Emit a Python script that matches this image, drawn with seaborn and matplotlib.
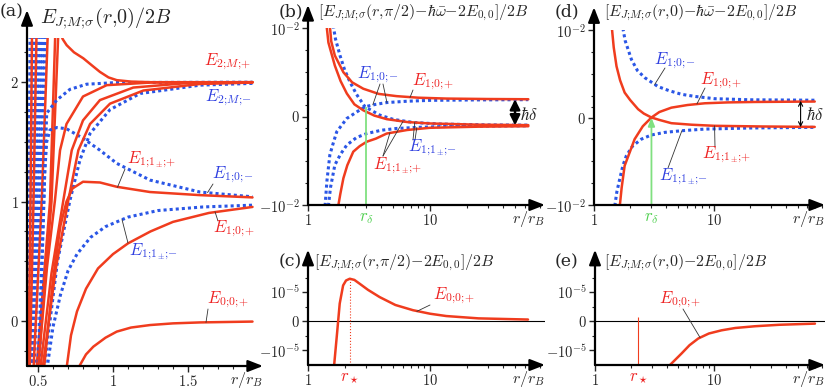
import matplotlib
matplotlib.use("Agg")
import matplotlib.pyplot as plt
import seaborn as sns

# ---------------- data ----------------
# (a) E_{J;M;sigma}(r,0)/2B versus r/r_B
a_e2p_r = [0.652, 0.665, 0.691, 0.74, 0.802, 0.86, 0.913, 0.97, 1.025, 1.12, 1.25, 1.5, 1.93]
a_e2p_E = [2.40, 2.36, 2.31, 2.25, 2.20, 2.14, 2.086, 2.04, 2.017, 2.005, 2.0, 2.0, 2.0]
a_r2a_r = [0.50, 0.56, 0.613, 0.647, 0.69, 0.80, 0.958, 1.25, 1.93]
a_r2a_E = [-0.40, 0.45, 1.01, 1.43, 1.65, 1.88, 1.975, 1.997, 2.0]
a_r2b_r = [0.515, 0.59, 0.669, 0.725, 0.80, 0.913, 1.135, 1.47, 1.93]
a_r2b_E = [-0.40, 0.40, 1.01, 1.43, 1.68, 1.85, 1.955, 1.99, 2.0]
a_r2c_r = [0.53, 0.62, 0.702, 0.769, 0.847, 0.98, 1.202, 1.58, 1.93]
a_r2c_E = [-0.40, 0.45, 1.01, 1.43, 1.65, 1.82, 1.93, 1.985, 1.997]
a_b2a_r = [0.50, 0.525, 0.545, 0.558, 0.625, 0.713, 0.824, 1.025, 1.93]
a_b2a_E = [-0.40, 0.50, 1.25, 1.74, 1.85, 1.94, 1.983, 1.997, 2.0]
a_b2b_r = [0.54, 0.63, 0.713, 0.78, 0.847, 0.98, 1.18, 1.58, 1.93]
a_b2b_E = [-0.40, 0.50, 1.01, 1.35, 1.57, 1.77, 1.905, 1.975, 1.99]
a_e10m_r = [0.51, 0.53, 0.545, 0.558, 0.58, 0.625, 0.69, 0.80, 0.913, 1.025, 1.247, 1.58, 1.93]
a_e10m_E = [-0.40, 0.60, 1.25, 1.50, 1.60, 1.62, 1.61, 1.53, 1.43, 1.32, 1.18, 1.08, 1.04]
a_e11p_r = [0.54, 0.60, 0.65, 0.69, 0.73, 0.80, 0.913, 1.025, 1.247, 1.58, 1.93]
a_e11p_E = [-0.40, 0.35, 0.80, 1.00, 1.11, 1.166, 1.16, 1.124, 1.08, 1.054, 1.035]
a_e11m_r = [0.56, 0.60, 0.65, 0.70, 0.76, 0.85, 0.95, 1.1, 1.3, 1.6, 1.93]
a_e11m_E = [-0.40, -0.05, 0.22, 0.42, 0.56, 0.70, 0.79, 0.87, 0.925, 0.955, 0.97]
a_e10p_r = [0.69, 0.72, 0.76, 0.82, 0.90, 1.0, 1.1, 1.25, 1.4, 1.64, 1.93]
a_e10p_E = [-0.40, -0.12, 0.08, 0.27, 0.44, 0.56, 0.65, 0.75, 0.83, 0.905, 0.955]
a_e00p_r = [0.766, 0.82, 0.869, 0.95, 1.025, 1.12, 1.247, 1.4, 1.58, 1.93]
a_e00p_E = [-0.40, -0.28, -0.215, -0.14, -0.089, -0.055, -0.034, -0.02, -0.012, -0.005]
# steep bundle at small r: x positions at the energies in bundle_E
bundle_E = [-0.40, 1.0, 2.40]
bundle_blue = [[0.430, 0.440, 0.447], [0.434, 0.447, 0.457], [0.438, 0.455, 0.468],
               [0.443, 0.463, 0.480], [0.448, 0.472, 0.492], [0.454, 0.482, 0.505],
               [0.460, 0.492, 0.520], [0.467, 0.503, 0.535], [0.475, 0.515, 0.550]]
bundle_red = [[0.436, 0.450, 0.460], [0.445, 0.470, 0.490], [0.470, 0.525, 0.565],
              [0.490, 0.580, 0.615], [0.500, 0.590, 0.635]]

# (b) [E(r,pi/2) - hbar*omega - 2E00]/2B
b_e10p_r = [1.51, 1.55, 1.66, 1.95, 2.3, 2.84, 3.8, 5.33, 8.0, 13.7, 30, 64]
b_e10p_E = [1.3e-2, 2.5e-3, 5.7e-4, 1.0e-4, 3.5e-5, 1.8e-5, 1.05e-5, 9.2e-6, 8.5e-6, 8.1e-6, 7.9e-6, 7.8e-6]
b_e11p_r = [1.42, 1.47, 1.66, 1.85, 2.08, 2.4, 2.84, 3.5, 4.42, 6.5, 10, 25, 64]
b_e11p_E = [1.3e-2, 2.2e-3, 2.0e-4, 4.0e-5, 1.1e-5, 5.5e-6, 2.8e-6, 4e-7, -1.2e-6, -2.5e-6, -3.15e-6, -3.7e-6, -3.9e-6]
b_e11q_r = [1.77, 1.84, 1.95, 2.1, 2.35, 2.65, 3.03, 3.6, 4.42, 6.5, 10, 25, 64]
b_e11q_E = [-1.1e-2, -3.2e-3, -6.2e-4, -1.6e-4, -3.9e-5, -2.2e-5, -1.38e-5, -1.0e-5, -7.7e-6, -6.1e-6, -5.1e-6, -4.6e-6, -4.4e-6]
b_e10m_r = [1.38, 1.43, 1.51, 1.6, 1.72, 2.08, 2.5, 2.93, 3.6, 4.42, 6.5, 10, 25, 64]
b_e10m_E = [-1.1e-2, -8e-4, -5.5e-5, -1.8e-5, -6.9e-6, -9e-7, 2.0e-6, 4.4e-6, 5.5e-6, 6.3e-6, 6.9e-6, 7.3e-6, 7.5e-6, 7.6e-6]
b_e11m_r = [1.47, 1.53, 1.66, 1.85, 2.08, 2.5, 3.03, 4.0, 5.33, 8.0, 13.7, 30, 64]
b_e11m_E = [-1.1e-2, -1.6e-3, -1.55e-4, -5e-5, -1.95e-5, -9.5e-6, -7.7e-6, -6.2e-6, -5.4e-6, -4.9e-6, -4.5e-6, -4.3e-6, -4.2e-6]
b_e11n_r = [1.61, 1.68, 1.83, 2.0, 2.21, 2.5, 2.93, 3.89, 5.0, 7.3, 12, 30, 64]
b_e11n_E = [1.3e-2, 3.2e-3, 5.7e-4, 1.25e-4, 3.6e-5, 1.0e-5, 4.4e-6, 6e-7, -1.3e-6, -2.7e-6, -3.4e-6, -3.8e-6, -3.9e-6]
b_rdelta, b_cross = 3.0, 4.4e-6
b_hd_r, b_hd_top, b_hd_bot = 49.8, 7.8e-6, -4.0e-6

# (d) [E(r,0) - hbar*omega - 2E00]/2B
d_e11p_r = [1.41, 1.46, 1.54, 1.65, 1.80, 2.0, 2.33, 2.6, 3.01, 3.5, 4.41, 6.5, 10.1, 25, 69]
d_e11p_E = [1.2e-2, 1.6e-3, 2.2e-4, 5e-5, 1.38e-5, 8e-6, 3.8e-6, 1.8e-6, 0.0, -1.1e-6, -2.6e-6, -3.3e-6, -3.8e-6, -4.1e-6, -4.3e-6]
d_e10p_r = [1.64, 1.70, 1.80, 1.95, 2.18, 2.55, 3.01, 3.5, 4.41, 6.0, 8.37, 13, 21.8, 69]
d_e10p_E = [-1.1e-2, -1.6e-3, -1.6e-4, -5e-5, -9.9e-6, -4e-6, 0.0, 2.5e-6, 4.5e-6, 5.7e-6, 6.5e-6, 6.9e-6, 7.1e-6, 7.3e-6]
d_e10m_r = [1.74, 1.82, 2.05, 2.3, 2.65, 3.41, 4.2, 5.35, 7.0, 10.1, 20, 69]
d_e10m_E = [1.2e-2, 3.2e-3, 4.5e-4, 1.4e-4, 6.6e-5, 2.6e-5, 1.7e-5, 1.15e-5, 9.6e-6, 8.6e-6, 8.1e-6, 7.9e-6]
d_e11m_r = [1.49, 1.55, 1.64, 1.74, 1.86, 2.1, 2.48, 3.0, 3.88, 5.5, 8.37, 20, 69]
d_e11m_E = [-1.1e-2, -2.5e-3, -6.3e-4, -1.6e-4, -5.6e-5, -2e-5, -9.9e-6, -8e-6, -6.8e-6, -6e-6, -5.3e-6, -4.8e-6, -4.5e-6]
d_rdelta = 3.01
d_hd_r, d_hd_top, d_hd_bot = 52.6, 7.6e-6, -4.4e-6

# (c) [E(r,pi/2) - 2E00]/2B and (e) [E(r,0) - 2E00]/2B
c_r = [1.63, 1.68, 1.73, 1.82, 1.94, 2.05, 2.20, 2.4, 2.65, 3.1, 3.87, 5.2, 7.26, 10, 13.6, 25, 63.6]
c_E = [-1.6e-5, -1.0e-5, -4.2e-6, 6.1e-6, 1.23e-5, 1.4e-5, 1.46e-5, 1.42e-5, 1.29e-5, 1.08e-5,
       8.3e-6, 5.6e-6, 3.8e-6, 2.6e-6, 1.8e-6, 1.0e-6, 6e-7]
c_rstar, c_peak = 2.20, 1.46e-5
e_r = [4.1, 4.25, 5.33, 6.2, 7.34, 9.0, 11.5, 15, 21.9, 35, 69.8]
e_E = [-1.6e-5, -1.5e-5, -1.1e-5, -8.2e-6, -5.9e-6, -4.2e-6, -3.1e-6, -2.3e-6, -1.7e-6, -1.2e-6, -8e-7]
e_rstar, e_top = 2.31, 1.5e-6

# ---------------- style ----------------
sns.set_style("ticks")
plt.rcParams["font.family"] = ["DejaVu Serif"]
plt.rcParams["mathtext.fontset"] = "cm"

RED = "#f03c1e"
BLUE = "#2a56e6"
GREEN = "#80e080"
REDTXT = "#ee2424"
BLUETXT = "#3040e0"
W, H = 831, 390

fig = plt.figure(figsize=(W / 100, H / 100), dpi=100)


def rect(l, r, t, b):
    return [l / W, 1 - b / H, (r - l) / W, (b - t) / H]


def fpos(x, y):
    return (x / W, 1 - y / H)


def curve(ax, r, E, color, dotted=False):
    sns.lineplot(x=r, y=E, ax=ax, color=color, sort=False, estimator=None,
                 lw=2.2 if dotted else 1.8,
                 linestyle=(0, (1, 1)) if dotted else "-")


def arrow_axes(ax, ytop):
    for s in ax.spines.values():
        s.set_visible(False)
    ap = dict(arrowstyle="-|>,head_length=0.9,head_width=0.35", color="k", lw=1.6,
              shrinkA=0, shrinkB=0)
    ax.annotate("", xy=(0, ytop), xytext=(0, 0), xycoords="axes fraction",
                arrowprops=ap, annotation_clip=False)
    ax.annotate("", xy=(1.0, 0), xytext=(0, 0), xycoords="axes fraction",
                arrowprops=ap, annotation_clip=False)
    ax.tick_params(which="major", direction="out", length=4, width=1.0, labelsize=10.5, pad=2)
    ax.tick_params(which="minor", direction="out", length=2.5, width=0.8)
    ax.set_xlabel("")
    ax.set_ylabel("")
    ax.annotate(r"$r/r_B$", xy=(1.0, 0), xycoords="axes fraction", xytext=(0, -3),
                textcoords="offset points", ha="right", va="top", fontsize=11.5)


def label(x, y, s, color, size=12):
    fig.text(*fpos(x, y), s, color=color, fontsize=size, ha="center", va="center")


def pointer(ax, xy, px):
    ax.annotate("", xy=xy, xycoords="data", xytext=fpos(*px), textcoords="figure fraction",
                arrowprops=dict(arrowstyle="-", lw=0.6, color="#333333", shrinkA=0, shrinkB=0))


def log_ticks(ax, rmax):
    ax.set_xscale("log")
    ax.set_xlim(1, rmax)
    ax.set_xticks([1, 10], [r"$1$", r"$10$"])
    ax.set_xticks([m * d for d in (1, 10) for m in range(2, 10) if m * d < rmax], minor=True)
    ax.tick_params(axis="x", which="minor", labelbottom=False)


# mathtext puts a space after ';' -- pull it back with a negative thin space
S = r";\!"
E2p = r"$E_{2" + S + "M" + S + "{+}}$"
E2m = r"$E_{2" + S + "M" + S + "{-}}$"
E11p = r"$E_{1" + S + r"1_{\pm}" + S + "{+}}$"
E11m = r"$E_{1" + S + r"1_{\pm}" + S + "{-}}$"
E10p = r"$E_{1" + S + "0" + S + "{+}}$"
E10m = r"$E_{1" + S + "0" + S + "{-}}$"
E00p = r"$E_{0" + S + "0" + S + "{+}}$"
EJM = r"E_{J" + S + "M" + S + r"\sigma}"

# ---------------- (a) ----------------
ax_a = fig.add_axes(rect(27, 263, 38, 366))
for xs in bundle_blue:
    curve(ax_a, xs, bundle_E, BLUE, dotted=True)
for xs in bundle_red:
    curve(ax_a, xs, bundle_E, RED)
curve(ax_a, a_b2a_r, a_b2a_E, BLUE, True)
curve(ax_a, a_b2b_r, a_b2b_E, BLUE, True)
curve(ax_a, a_e10m_r, a_e10m_E, BLUE, True)
curve(ax_a, a_e11m_r, a_e11m_E, BLUE, True)
curve(ax_a, a_e2p_r, a_e2p_E, RED)
curve(ax_a, a_r2a_r, a_r2a_E, RED)
curve(ax_a, a_r2b_r, a_r2b_E, RED)
curve(ax_a, a_r2c_r, a_r2c_E, RED)
curve(ax_a, a_e11p_r, a_e11p_E, RED)
curve(ax_a, a_e10p_r, a_e10p_E, RED)
curve(ax_a, a_e00p_r, a_e00p_E, RED)
ax_a.set_xlim(0.4267, 2.0)
ax_a.set_ylim(-0.377, 2.37)
ax_a.set_xticks([0.5, 1, 1.5], [r"$0.5$", r"$1$", r"$1.5$"])
ax_a.set_xticks([0.6, 0.7, 0.8, 0.9, 1.1, 1.2, 1.3, 1.4, 1.6, 1.7, 1.8, 1.9], minor=True)
ax_a.set_yticks([0, 1, 2], [r"$0$", r"$1$", r"$2$"])
ax_a.set_yticks([-0.25, 0.25, 0.5, 0.75, 1.25, 1.5, 1.75, 2.25], minor=True)
arrow_axes(ax_a, 1.085)

label(227, 62, E2p, REDTXT)
label(228, 98, E2m, BLUETXT)
label(152, 160, E11p, REDTXT)
pointer(ax_a, (1.03, 1.12), (125, 169))
label(233, 175, E10m, BLUETXT)
pointer(ax_a, (1.63, 1.075), (213, 184))
label(234, 229, E10p, REDTXT)
pointer(ax_a, (1.68, 0.915), (218, 221))
label(153, 252, E11m, BLUETXT)
pointer(ax_a, (1.06, 0.85), (128, 243))
label(228, 300, E00p, REDTXT)
pointer(ax_a, (1.62, -0.012), (208, 309))

# ---------------- (b) ----------------
ax_b = fig.add_axes(rect(308, 545, 28, 205))
ax_b.set_yscale("symlog", linthresh=1e-5, linscale=0.9)
curve(ax_b, b_e10m_r, b_e10m_E, BLUE, True)
curve(ax_b, b_e11m_r, b_e11m_E, BLUE, True)
curve(ax_b, b_e11n_r, b_e11n_E, BLUE, True)
curve(ax_b, b_e10p_r, b_e10p_E, RED)
curve(ax_b, b_e11p_r, b_e11p_E, RED)
curve(ax_b, b_e11q_r, b_e11q_E, RED)
ax_b.vlines(b_rdelta, -1e-2, b_cross, color=GREEN, lw=1.3)
ax_b.annotate("", xy=(b_hd_r, b_hd_top), xytext=(b_hd_r, b_hd_bot),
              arrowprops=dict(arrowstyle="<|-|>,head_length=0.6,head_width=0.3", color="k",
                              lw=1.8, shrinkA=0, shrinkB=0))
fig.text(*fpos(529, 115), r"$\hbar\delta$", fontsize=12, ha="center", va="center")

# ---------------- (d) ----------------
ax_d = fig.add_axes(rect(594, 825, 30, 205))
ax_d.set_yscale("symlog", linthresh=1e-5, linscale=0.9)
curve(ax_d, d_e10m_r, d_e10m_E, BLUE, True)
curve(ax_d, d_e11m_r, d_e11m_E, BLUE, True)
curve(ax_d, d_e11p_r, d_e11p_E, RED)
curve(ax_d, d_e10p_r, d_e10p_E, RED)
ax_d.annotate("", xy=(d_rdelta, 0), xytext=(d_rdelta, -1e-2),
              arrowprops=dict(arrowstyle="-|>,head_length=0.5,head_width=0.2", color=GREEN,
                              lw=1.3, shrinkA=0, shrinkB=0))
ax_d.annotate("", xy=(d_hd_r, d_hd_top), xytext=(d_hd_r, d_hd_bot),
              arrowprops=dict(arrowstyle="<->,head_length=0.3,head_width=0.15", color="k",
                              lw=0.8, shrinkA=0, shrinkB=0))
fig.text(*fpos(815, 116), r"$\hbar\delta$", fontsize=12, ha="center", va="center")

for ax, rmax, rd in ((ax_b, 87.7, b_rdelta), (ax_d, 84.0, d_rdelta)):
    ax.set_ylim(-1e-2, 1e-2)
    log_ticks(ax, rmax)
    ax.set_yticks([-1e-2, 0, 1e-2], [r"$-10^{-2}$", r"$0$", r"$10^{-2}$"])
    ax.set_yticks([-1e-3, -1e-4, -1e-5, -5e-6, 5e-6, 1e-5, 1e-4, 1e-3], minor=True)
    ax.tick_params(axis="y", which="minor", labelleft=False)
    arrow_axes(ax, 1.13)
    ax.annotate(r"$r_\delta$", xy=(rd, 0), xycoords=("data", "axes fraction"),
                xytext=(0, -3), textcoords="offset points", ha="center", va="top",
                color="#50d050", fontsize=12)

label(378, 75, E10m, BLUETXT)
pointer(ax_b, (4.44, 6.3e-6), (383, 84))
pointer(ax_b, (3.4, 5.3e-6), (380, 84))
label(433, 82, E10p, REDTXT)
pointer(ax_b, (6.86, 8.6e-6), (413, 90))
label(398, 166, E11p, REDTXT)
pointer(ax_b, (4.7, -7.3e-6), (383, 156))
pointer(ax_b, (6.0, -2.3e-6), (383, 156))
label(432, 148, E11m, BLUETXT)
pointer(ax_b, (7.5, -2.7e-6), (413, 140))
pointer(ax_b, (7.8, -4.95e-6), (415, 140))

label(675, 61, E10m, BLUETXT)
pointer(ax_d, (3.2, 3.2e-5), (665, 68))
label(721, 81, E10p, REDTXT)
pointer(ax_d, (7.2, 6.2e-6), (705, 88))
label(727, 155, E11p, REDTXT)
pointer(ax_d, (10.1, -3.8e-6), (715, 147))
label(683, 177, E11m, BLUETXT)
pointer(ax_d, (5.4, -6.0e-6), (668, 168))

# ---------------- (c) and (e) ----------------
ax_c = fig.add_axes(rect(308, 545, 263, 365))
ax_e = fig.add_axes(rect(595, 825, 263, 365))
ax_c.axhline(0, color="k", lw=0.8)
ax_e.axhline(0, color="k", lw=0.8)
curve(ax_c, c_r, c_E, RED)
curve(ax_e, e_r, e_E, RED)
ax_c.vlines(c_rstar, -1.5e-5, c_peak, color=RED, lw=0.8, linestyles=":")
ax_e.vlines(e_rstar, -1.5e-5, e_top, color=RED, lw=0.8)
for ax, rmax, rs in ((ax_c, 87.7, c_rstar), (ax_e, 84.7, e_rstar)):
    ax.set_ylim(-1.5e-5, 2.0e-5)
    log_ticks(ax, rmax)
    ax.set_yticks([-1e-5, 0, 1e-5], [r"$-10^{-5}$", r"$0$", r"$10^{-5}$"])
    ax.set_yticks([-5e-6, 5e-6, 1.5e-5], minor=True)
    ax.tick_params(axis="y", which="minor", labelleft=False)
    arrow_axes(ax, 1.13)
    ax.annotate(r"$r_\star$", xy=(rs, 0), xycoords=("data", "axes fraction"),
                xytext=(0, -3), textcoords="offset points", ha="center", va="top",
                color=REDTXT, fontsize=12)

label(454, 296, E00p, REDTXT)
pointer(ax_c, (7.8, 3.4e-6), (430, 305))
label(680, 300, E00p, REDTXT)
pointer(ax_e, (7.6, -5.6e-6), (683, 309))

# ---------------- titles and panel letters ----------------
fig.text(*fpos(40, 18), "$" + EJM + r"(r{,}0)/2B$", fontsize=14.5, ha="left", va="center")
fig.text(*fpos(318, 13), r"$[" + EJM + r"(r{,}\pi/2){-}\hbar\bar{\omega}{-}2E_{0,0}]/2B$",
         fontsize=11.5, ha="left", va="center")
fig.text(*fpos(314, 263), r"$[" + EJM + r"(r{,}\pi/2){-}2E_{0,0}]/2B$",
         fontsize=11.5, ha="left", va="center")
fig.text(*fpos(604, 13), r"$[" + EJM + r"(r{,}0){-}\hbar\bar{\omega}{-}2E_{0,0}]/2B$",
         fontsize=11.5, ha="left", va="center")
fig.text(*fpos(604, 263), r"$[" + EJM + r"(r{,}0){-}2E_{0,0}]/2B$",
         fontsize=11.5, ha="left", va="center")
for x, y, s in ((0, 12, "(a)"), (279, 12, "(b)"), (279, 262, "(c)"),
                (555, 12, "(d)"), (555, 262, "(e)")):
    fig.text(*fpos(x, y), s, fontsize=12.5, ha="left", va="center", family="DejaVu Serif")

fig.savefig("out.png", dpi=100)
